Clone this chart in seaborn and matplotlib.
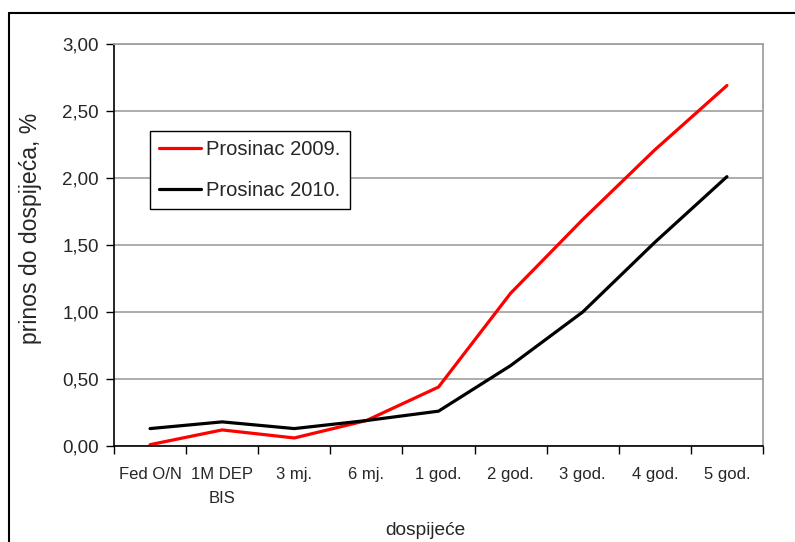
import pandas as pd
import seaborn as sns
import matplotlib.pyplot as plt
from matplotlib.lines import Line2D

# data
maturities = ['Fed O/N', '1M DEP\nBIS', '3 mj.', '6 mj.', '1 god.',
              '2 god.', '3 god.', '4 god.', '5 god.']
dec_2009 = [0.01, 0.12, 0.06, 0.19, 0.44, 1.14, 1.69, 2.21, 2.69]
dec_2010 = [0.13, 0.18, 0.13, 0.19, 0.26, 0.60, 1.00, 1.52, 2.01]
series_names = ['Prosinac 2009.', 'Prosinac 2010.']
y_ticks = [0.0, 0.5, 1.0, 1.5, 2.0, 2.5, 3.0]

df = pd.DataFrame({
    'pos': list(range(len(maturities))) * 2,
    'prinos': dec_2009 + dec_2010,
    'serija': [series_names[0]] * len(maturities) + [series_names[1]] * len(maturities),
})

sns.set_theme(style='white')
plt.rcParams['font.family'] = ['Liberation Sans', 'DejaVu Sans']

fig = plt.figure(figsize=(7.95, 5.42), dpi=100)
ax = fig.add_axes([114 / 795, 1 - 446 / 542, (763 - 114) / 795, (446 - 44) / 542])

sns.lineplot(data=df, x='pos', y='prinos', hue='serija',
             palette={series_names[0]: '#ff0000', series_names[1]: '#000000'},
             linewidth=2.3, ax=ax, legend=False)

ax.set_xlim(-0.5, len(maturities) - 0.5)
ax.set_ylim(0, 3.0)
ax.set_yticks(y_ticks)
ax.set_yticklabels([f'{v:.2f}'.replace('.', ',') for v in y_ticks], fontsize=13.5)
ax.set_xticks(range(len(maturities)))
ax.set_xticklabels(maturities, fontsize=12, linespacing=1.8)
ax.set_xticks([i - 0.5 for i in range(len(maturities) + 1)], minor=True)
ax.tick_params(axis='x', which='major', length=0, pad=15)
ax.tick_params(axis='x', which='minor', length=6, width=1, color='black', direction='out', bottom=True)
ax.tick_params(axis='y', which='major', length=6, width=1, color='black', direction='out', left=True, pad=5)

ax.grid(axis='y', color='#a6a6a6', linewidth=1.3)
ax.set_axisbelow(True)
for side in ['left', 'bottom']:
    ax.spines[side].set_color('black')
    ax.spines[side].set_linewidth(1.2)
for side in ['top', 'right']:
    ax.spines[side].set_color('#a0a0a0')
    ax.spines[side].set_linewidth(1.3)

ax.set_xlabel('dospijeće', fontsize=13.8)
ax.xaxis.set_label_coords(311 / 649, -(522 - 446) / 402)
ax.xaxis.label.set_va('top')
ax.set_ylabel('prinos do dospijeća, %', fontsize=16.6)
ax.yaxis.set_label_coords(-(114 - 42) / 649, (446 - 228) / 402)

handles = [Line2D([], [], color='#ff0000', linewidth=2.3),
           Line2D([], [], color='#000000', linewidth=2.3)]
leg = ax.legend(handles, series_names, loc='upper left', bbox_to_anchor=(36 / 649, 1 - 87 / 402),
                fontsize=14.5, frameon=True, fancybox=False, framealpha=1,
                edgecolor='black', handlelength=2.1, handletextpad=0.25,
                labelspacing=1.1, borderpad=0.45, borderaxespad=0)
leg.get_frame().set_linewidth(1.0)

# outer frame of the source document
fig.add_artist(Line2D([9 / 795, 1], [1 - 13 / 542, 1 - 13 / 542], color='black', linewidth=1.5))
fig.add_artist(Line2D([9 / 795, 9 / 795], [0, 1 - 13 / 542], color='black', linewidth=1.5))

fig.savefig('out.png', dpi=100)
